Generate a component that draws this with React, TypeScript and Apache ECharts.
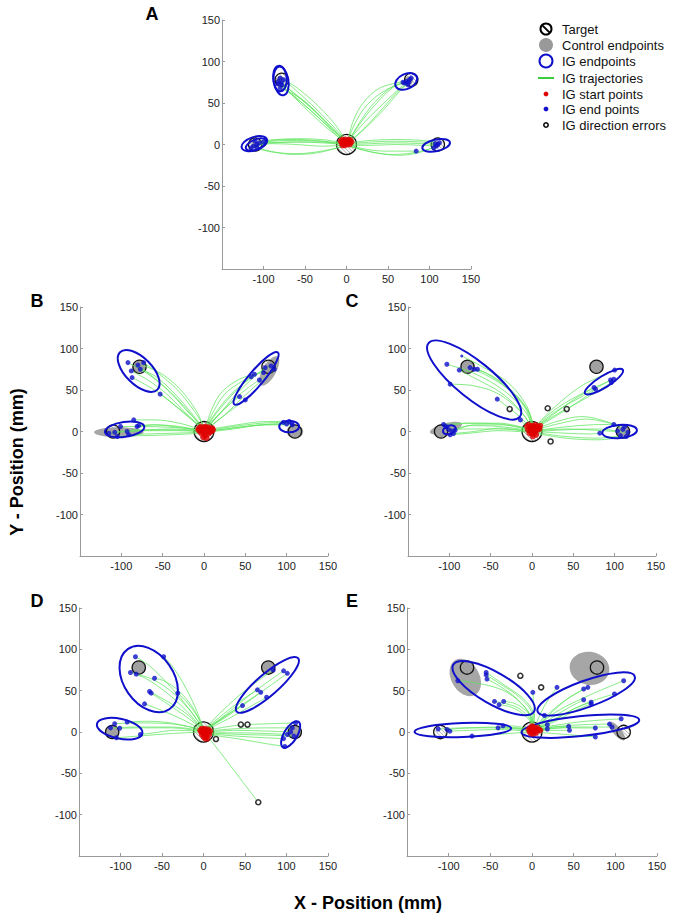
import React, { useEffect, useRef } from 'react';
import * as echarts from 'echarts';

// ---------- axis ----------
const AXIS_MIN = -150;
const AXIS_MAX = 150;
const AXIS_STEP = 50;

const panelNames = ['A', 'B', 'C', 'D', 'E'];

// targets: [x, y, radius]
const targets = [
  [0, 0, 12],
  [-110, 0, 8],
  [110, 0, 8],
  [-78, 78, 8],
  [78, 78, 8],
];

// ---------- Panel A ----------
const trajA = [
  [[-2, 3], [-20, 22], [-45, 46], [-65, 63], [-78, 74]],
  [[-1, 4], [-22, 25], [-48, 50], [-68, 66], [-80, 78]],
  [[0, 4], [-18, 24], [-42, 48], [-64, 68], [-77, 80]],
  [[-3, 2], [-25, 24], [-50, 47], [-70, 64], [-82, 72]],
  [[-1, 5], [-16, 27], [-40, 52], [-62, 70], [-76, 78]],
  [[-2, 4], [-24, 26], [-46, 48], [-66, 62], [-80, 68]],
  [[0, 3], [-20, 20], [-44, 42], [-66, 60], [-79, 70]],
  [[-1, 2], [-26, 22], [-52, 46], [-72, 66], [-82, 76]],
  [[2, 5], [10, 25], [25, 48], [48, 66], [70, 75]],
  [[3, 4], [14, 22], [32, 45], [55, 68], [74, 77]],
  [[2, 4], [20, 25], [40, 45], [60, 64], [76, 78]],
  [[3, 5], [18, 30], [35, 52], [56, 70], [72, 74]],
  [[4, 3], [25, 22], [45, 42], [62, 62], [78, 80]],
  [[2, 6], [8, 28], [20, 50], [40, 68], [70, 76]],
  [[3, 3], [22, 20], [44, 44], [64, 66], [74, 72]],
  [[-4, 1], [-30, 4], [-60, 5], [-90, 4], [-108, 2]],
  [[-4, 0], [-30, 2], [-60, 3], [-90, 2], [-112, 0]],
  [[-3, -1], [-30, -2], [-60, 0], [-90, 1], [-110, -2]],
  [[-4, 2], [-30, 6], [-60, 7], [-85, 6], [-105, 4]],
  [[-3, -2], [-30, -8], [-60, -11], [-90, -9], [-110, -4]],
  [[-4, -2], [-35, -10], [-65, -12], [-92, -8], [-112, -3]],
  [[-3, 0], [-30, 4], [-60, 6], [-88, 5], [-115, -4]],
  [[-4, 1], [-35, 3], [-65, 3], [-95, 2], [-100, 3]],
  [[4, 1], [30, 3], [60, 4], [90, 3], [108, 2]],
  [[4, 0], [30, 1], [60, 2], [90, 1], [110, 0]],
  [[3, -1], [30, -1], [60, 0], [90, -1], [108, -2]],
  [[4, 2], [30, 5], [60, 6], [90, 5], [112, 2]],
  [[3, -2], [30, -9], [55, -12], [80, -10], [105, -4]],
  [[4, -2], [35, -10], [65, -13], [90, -9], [110, -1]],
  [[3, -1], [25, -6], [50, -8], [70, -8], [84, -8]],
];
const endA = [
  [-80, 80], [-78, 72], [-82, 76], [-76, 78], [-80, 68], [-79, 74], [-83, 73],
  [72, 76], [76, 78], [70, 74], [78, 80], [74, 72], [68, 75], [75, 75],
  [-112, -2], [-108, 0], [-105, 2], [-115, -4], [-100, 3], [-110, 4], [-108, -3],
  [108, -2], [110, 0], [105, -4], [112, 2], [84, -8], [107, 1],
];
const startA = [
  [-7, 4], [-5, 6], [-3, 5], [-1, 6], [1, 5], [3, 6], [5, 5], [-6, 2], [-4, 1], [-2, 2],
  [0, 2], [2, 3], [4, 2], [6, 3], [-5, -1], [-2, -1], [1, 0], [4, 0], [0, 4], [-3, 3],
];
// ellipses: [cx, cy, semiMajor, semiMinor, angleDeg]
const ellA = [
  [-79, 77, 18, 9, 100], [-80, 79, 15, 8, 92],
  [72, 76, 14, 9, 25],
  [-111, 1, 16, 8, 18], [-109, 0, 13, 6, 22],
  [108, -1, 17, 7, 12],
];
const ctrlA = [[-80, 77, 5, 5, 0], [75, 77, 5, 5, 0], [-110, 0, 5, 4, 0], [108, 0, 5, 4, 0]];
const errA: number[][] = [];

// ---------- Panel B ----------
const trajB = [
  [[-1, 3], [-15, 20], [-38, 45], [-62, 66], [-80, 80]],
  [[0, 4], [-18, 22], [-42, 48], [-66, 68], [-92, 83]],
  [[-2, 3], [-20, 20], [-45, 45], [-68, 62], [-88, 73]],
  [[-1, 2], [-22, 20], [-48, 42], [-70, 56], [-87, 65]],
  [[0, 3], [-15, 22], [-35, 45], [-58, 66], [-77, 75]],
  [[1, 4], [-12, 25], [-32, 50], [-55, 70], [-73, 83]],
  [[-1, 3], [-18, 18], [-36, 32], [-53, 45]],
  [[0, 5], [-10, 26], [-30, 52], [-52, 70], [-75, 80]],
  [[2, 4], [15, 18], [30, 32], [43, 42]],
  [[3, 3], [20, 16], [36, 28], [50, 38]],
  [[2, 5], [12, 25], [25, 45], [42, 58], [57, 66]],
  [[3, 5], [15, 22], [32, 42], [48, 58], [61, 69]],
  [[3, 4], [20, 22], [38, 40], [55, 54], [67, 62]],
  [[2, 5], [10, 28], [22, 48], [45, 64], [72, 71]],
  [[4, 4], [22, 25], [42, 48], [60, 65], [74, 77]],
  [[3, 6], [18, 28], [38, 50], [62, 68], [81, 79]],
  [[4, 3], [25, 20], [48, 42], [68, 60], [85, 75]],
  [[-3, 2], [-30, 10], [-60, 14], [-85, 14]],
  [[-3, 1], [-30, 6], [-60, 8], [-81, 6]],
  [[-4, 1], [-30, 5], [-60, 8], [-79, 7]],
  [[-3, 0], [-35, 1], [-70, 1], [-93, 0]],
  [[-3, -1], [-35, -2], [-70, -3], [-91, -4]],
  [[-4, 0], [-40, 2], [-80, 2], [-108, -1]],
  [[-3, 2], [-40, 5], [-75, 6], [-101, 6]],
  [[-3, -2], [-40, -4], [-75, -5], [-105, -6]],
  [[-4, 1], [-40, 3], [-80, 1], [-115, -2]],
  [[4, 1], [35, 6], [70, 10], [96, 11]],
  [[3, 0], [35, 4], [70, 8], [100, 9]],
  [[4, 2], [40, 8], [75, 12], [103, 12]],
  [[3, -1], [35, 3], [70, 8], [106, 10]],
  [[4, 0], [40, 5], [75, 8], [107, 8]],
];
const endB = [
  [-92, 83], [-88, 73], [-87, 65], [-80, 80], [-77, 75], [-73, 83], [-53, 45],
  [43, 42], [50, 38], [57, 66], [61, 69], [67, 62], [72, 71], [74, 77], [81, 79], [85, 75],
  [-115, -2], [-108, -1], [-105, -6], [-101, 6], [-93, 0], [-91, -4], [-85, 14], [-81, 6], [-79, 7],
  [96, 11], [100, 9], [103, 12], [106, 10], [107, 8],
];
const startB = [
  [-6, 4], [-4, 6], [-2, 3], [0, 5], [2, 6], [4, 4], [6, 5], [8, 3], [10, 4], [-5, 0], [-3, -2],
  [0, -1], [3, 0], [5, -3], [7, -1], [1, -5], [-1, -7], [3, -8], [9, 0], [-7, 2], [11, 2],
];
const ellB = [[-79, 73, 32, 16, 135], [63, 64, 41, 9, 50], [-96, 2.5, 24, 9, 8], [103, 6, 12, 7, 0]];
const ctrlB = [[-103, -1, 30, 6, 0], [79, 73, 20, 8, 60], [110, 0, 10, 8, 0], [-78, 78, 8, 7, 0]];
const errB: number[][] = [];

// ---------- Panel C ----------
const trajC = [
  [[1, 4], [-5, 25], [-25, 48], [-50, 65], [-75, 77]],
  [[0, 5], [-8, 28], [-30, 52], [-55, 70], [-70, 75]],
  [[2, 4], [-3, 22], [-20, 45], [-45, 65], [-66, 75]],
  [[0, 3], [-10, 20], [-35, 45], [-65, 62], [-88, 74]],
  [[1, 5], [-6, 30], [-28, 58], [-60, 78], [-85, 91]],
  [[0, 4], [-12, 22], [-40, 45], [-70, 55], [-99, 57]],
  [[-1, 3], [-15, 18], [-30, 30], [-42, 39]],
  [[0, 3], [-8, 8], [-14, 14]],
  [[1, 4], [-8, 24], [-35, 50], [-70, 70], [-103, 81]],
  [[4, 4], [25, 20], [50, 38], [75, 53]],
  [[3, 3], [28, 18], [55, 35], [77, 51]],
  [[4, 5], [30, 25], [60, 42], [95, 62]],
  [[3, 4], [32, 22], [65, 40], [96, 59]],
  [[4, 6], [30, 28], [65, 48], [99, 63]],
  [[3, 5], [28, 30], [60, 55], [100, 74]],
  [[-3, 2], [-35, 8], [-70, 8], [-93, 1.5]],
  [[-3, 1], [-40, 6], [-75, 7], [-97, 0.5]],
  [[-4, 3], [-40, 10], [-75, 10], [-107, 8.5]],
  [[-3, 0], [-40, 3], [-75, 3], [-101, 2.5]],
  [[-4, 2], [-40, 9], [-80, 10], [-104, 6]],
  [[-3, -1], [-40, 1], [-75, -2], [-99, -4]],
  [[-3, 0], [-40, 4], [-70, 0], [-95, -2.5]],
  [[4, 3], [30, 12], [60, 18], [90, 12], [110, 2.5]],
  [[4, 2], [35, 10], [65, 15], [95, 10], [112, 6]],
  [[4, 1], [35, 5], [70, 8], [99, 8.5]],
  [[4, -1], [40, -6], [80, -8], [107, -5]],
  [[4, -2], [40, -8], [80, -10], [114, -6]],
  [[4, 0], [40, 2], [80, 3], [103.5, 0.5]],
  [[4, 0], [40, -2], [70, -3], [82, -2]],
  [[4, 1], [45, 3], [85, 1], [116, -1]],
];
const endC = [
  [-103, 81], [-88, 74], [-75, 77], [-70, 75], [-66, 75], [-99, 57], [-42, 39], [-14, 14],
  [75, 53], [77, 51], [95, 62], [96, 59], [99, 63], [100, 74],
  [82, -2], [99, 8.5], [103.5, 0.5], [107, -5], [110, 2.5], [112, 6], [114, -6], [116, -1],
  [-107, 8.5], [-104, 6], [-101, 2.5], [-97, 0.5], [-95, -2.5], [-99, -4], [-93, 1.5],
];
const smallEndC = [[-85, 91]];
const startC = [
  [-6, 6], [-4, 8], [-2, 5], [0, 7], [2, 6], [4, 8], [6, 6], [8, 5], [10, 7], [-5, 2],
  [-2, 1], [1, 2], [4, 1], [7, 2], [9, 3], [-3, -2], [0, -3], [3, -2], [1, -6], [5, -4],
];
const ellC = [[-70, 62, 71, 22, 141], [87, 60, 27, 7, 32], [106, 0, 21, 8, 5], [-100, 2, 8, 5, 20]];
const ctrlC = [[-104, 4, 20, 6, 15], [-78, 78, 8, 8, 0], [78, 78, 8, 8, 0], [110, 0, 9, 6, 0], [-110, 0, 8, 8, 0]];
const errC = [[-27, 27], [19, 28], [42, 27], [22.5, -12]];

// ---------- Panel D ----------
const trajD = [
  [[0, 3], [-15, 25], [-40, 55], [-65, 80], [-82, 91]],
  [[0, 4], [-10, 30], [-25, 60], [-38, 80], [-48, 91]],
  [[-1, 3], [-20, 25], [-45, 48], [-70, 65], [-88, 72]],
  [[0, 3], [-18, 28], [-40, 50], [-62, 64], [-81, 70]],
  [[0, 4], [-12, 28], [-30, 50], [-48, 62], [-59, 65]],
  [[-1, 2], [-18, 20], [-40, 35], [-65, 49]],
  [[0, 2], [-20, 18], [-42, 33], [-63, 47]],
  [[-1, 2], [-25, 15], [-50, 26], [-71, 34]],
  [[0, 4], [-8, 20], [-20, 36], [-31, 47]],
  [[3, 4], [20, 15], [35, 25], [47, 32]],
  [[3, 4], [22, 20], [45, 38], [65, 51]],
  [[4, 3], [25, 18], [48, 34], [69, 48]],
  [[4, 3], [28, 15], [55, 30], [76, 42]],
  [[3, 5], [22, 25], [50, 50], [84, 75]],
  [[4, 4], [28, 22], [60, 48], [96.5, 74]],
  [[4, 4], [30, 20], [65, 45], [101, 71]],
  [[-3, 2], [-40, 6], [-80, 6], [-112, 5]],
  [[-3, 3], [-40, 10], [-80, 11], [-107, 10]],
  [[-3, 1], [-40, 5], [-75, 5], [-101, 4.5]],
  [[-3, 3], [-40, 11], [-70, 13], [-92, 12]],
  [[-3, 0], [-40, -2], [-80, -5], [-105, -7]],
  [[-3, 1], [-35, 2], [-60, -1], [-76, -3]],
  [[4, 2], [40, 8], [80, 10], [111, 11]],
  [[4, 1], [40, 4], [80, 5], [107, 5]],
  [[4, 0], [40, 2], [80, 1], [105, 0]],
  [[4, -1], [40, -1], [80, -2], [101, -3]],
  [[4, -2], [40, -5], [75, -7], [96.5, -8]],
  [[4, -3], [40, -8], [75, -14], [98, -17.5]],
  [[4, -1], [45, -3], [85, -4], [109, -5]],
  [[3, -3], [22, -27], [44, -56], [66, -85]],
];
const endD = [
  [-82, 91], [-48, 91], [-88, 72], [-81, 70], [-59, 65], [-65, 49], [-63, 47], [-71, 34], [-31, 47],
  [47, 32], [65, 51], [69, 48], [76, 42], [84, 75], [96.5, 74], [101, 71],
  [-112, 5], [-107, 10], [-101, 4.5], [-92, 12], [-105, -7], [-76, -3],
  [111, 11], [107, 5], [105, 0], [101, -3], [96.5, -8], [98, -17.5], [109, -5],
];
const startD = [
  [-4, 2], [-2, 4], [0, 3], [2, 4], [4, 2], [6, 3], [-3, 0], [0, 0], [3, 1], [6, 0],
  [8, 1], [-2, -3], [1, -3], [4, -2], [7, -3], [0, -6], [3, -6], [5, -8], [2, -8],
];
const ellD = [[-66, 64, 44, 30, 125], [77, 57, 49, 13, 41], [-101, 4, 28, 12, -12], [105, -3, 18, 8, 59]];
const ctrlD = [[-78, 78, 8, 8, 0], [78, 78, 8, 8, 0], [-110, 0, 8, 8, 0], [110, 0, 8, 8, 0]];
const errD = [[45, 9], [53, 9], [15, -8.5], [66, -85]];

// ---------- Panel E ----------
const trajE = [
  [[0, 3], [2, 20], [-10, 40], [-35, 58], [-55, 72]],
  [[1, 4], [0, 22], [-15, 42], [-38, 58], [-55, 69]],
  [[0, 4], [-2, 20], [-18, 40], [-38, 55], [-54, 64]],
  [[1, 3], [-2, 15], [-15, 28], [-30, 34], [-45, 37]],
  [[0, 3], [-3, 14], [-15, 25], [-28, 31], [-39.5, 33]],
  [[1, 4], [0, 16], [-10, 28], [-22, 35], [-34, 37]],
  [[0, 4], [-5, 25], [-30, 48], [-60, 58], [-89, 62]],
  [[2, 4], [3, 20], [2, 35], [1, 48]],
  [[3, 3], [8, 10], [15, 20]],
  [[3, 4], [10, 22], [20, 40], [30, 54]],
  [[4, 4], [20, 20], [40, 38], [62, 52]],
  [[4, 5], [22, 24], [45, 42], [67, 54]],
  [[4, 4], [25, 18], [45, 30], [62, 39]],
  [[5, 3], [28, 15], [50, 28], [71, 36]],
  [[4, 3], [30, 14], [52, 26], [71, 34]],
  [[5, 4], [35, 20], [68, 36], [99, 46]],
  [[4, 5], [30, 25], [70, 45], [110, 62]],
  [[-3, 2], [-40, 5], [-80, 5], [-112.6, 3.6]],
  [[-3, 3], [-40, 6], [-75, 5], [-102, 3]],
  [[-3, 1], [-40, 3], [-75, 2], [-98.6, 1]],
  [[-3, 3], [-20, 5], [-40.7, 5]],
  [[-3, 4], [-20, 7], [-34.7, 7.6]],
  [[-3, 0], [-30, -2], [-55, -4], [-72, -5]],
  [[4, 3], [12, 7], [18.4, 8.8]],
  [[4, 2], [12, 3], [18.4, 3.6]],
  [[4, 2], [25, 6], [44, 6.8]],
  [[4, 1], [25, 2], [45, 2]],
  [[4, 2], [40, 5], [76, 4.8]],
  [[4, 0], [40, -3], [76, -6]],
  [[4, 3], [45, 8], [93, 9.6]],
  [[4, 2], [50, 6], [96, 6]],
  [[4, 4], [55, 12], [107, 16]],
];
const endE = [
  [-89, 62], [-55, 72], [-55, 69], [-54, 64], [-45, 37], [-39.5, 33], [-34, 37], [1, 48],
  [15, 20], [30, 54], [62, 52], [67, 54], [62, 39], [71, 36], [71, 34], [99, 46], [110, 62],
  [-112.6, 3.6], [-102, 3], [-98.6, 1], [-40.7, 5], [-34.7, 7.6], [-72, -5],
  [18.4, 8.8], [18.4, 3.6], [44, 6.8], [45, 2], [76, 4.8], [76, -6], [93, 9.6], [96, 6], [107, 16],
];
const startE = [
  [-4, 3], [-2, 5], [0, 4], [2, 6], [4, 4], [6, 5], [-3, 0], [0, 1], [3, 1], [6, 2],
  [8, 3], [-1, -2], [2, -2], [5, -1], [0, 7], [10, 2],
];
const ellE = [[-46, 53, 56, 19, 150], [65, 46, 62, 16, 20], [-83, 2.4, 58, 8.5, 2], [58, 7, 71, 12, 6]];
const ctrlE = [[-80, 66, 24, 17, 120], [69, 77, 24, 20, -10], [102, 1, 14, 5, -50]];
const errE = [[-14, 68], [11, 54]];

const panels = [
  { traj: trajA, end: endA, start: startA, ell: ellA, ctrl: ctrlA, err: errA, small: [] as number[][] },
  { traj: trajB, end: endB, start: startB, ell: ellB, ctrl: ctrlB, err: errB, small: [] as number[][] },
  { traj: trajC, end: endC, start: startC, ell: ellC, ctrl: ctrlC, err: errC, small: smallEndC },
  { traj: trajD, end: endD, start: startD, ell: ellD, ctrl: ctrlD, err: errD, small: [] as number[][] },
  { traj: trajE, end: endE, start: startE, ell: ellE, ctrl: ctrlE, err: errE, small: [] as number[][] },
];

// ---------- layout ----------
const gridBoxes = [
  { left: 222, top: 20, width: 249, height: 249 },
  { left: 80, top: 307, width: 248, height: 249 },
  { left: 408, top: 307, width: 248, height: 249 },
  { left: 79, top: 608, width: 249, height: 248 },
  { left: 407, top: 608, width: 250, height: 248 },
];
const letterPos = [
  [152, 14],
  [37, 301],
  [352, 301],
  [37, 601],
  [352, 601],
];

const GREEN = '#5ee65e';
const BLUE = '#1010cc';
const RED = '#e00000';
const GRAY = '#a6a6a6';
const FONT = '"Liberation Sans", Arial, sans-serif';

const ellipseRender = (fill: boolean) => (_params: any, api: any) => {
  const c = api.coord([api.value(0), api.value(1)]);
  const s = api.size([api.value(2), api.value(3)]);
  const rot = (api.value(4) * Math.PI) / 180;
  return {
    type: 'ellipse',
    x: c[0],
    y: c[1],
    rotation: rot,
    shape: { cx: 0, cy: 0, rx: s[0], ry: s[1] },
    style: fill ? { fill: GRAY, stroke: 'none' } : { fill: 'none', stroke: BLUE, lineWidth: 2 },
    silent: true,
  };
};

const targetRender = (_params: any, api: any) => {
  const c = api.coord([api.value(0), api.value(1)]);
  const r = api.size([api.value(2), api.value(2)])[0];
  const children: any[] = [];
  const sp = 2.6;
  for (let d = -r + sp / 2; d < r; d += sp) {
    const h = Math.sqrt(Math.max(r * r - d * d, 0));
    const nx = d / Math.SQRT2;
    const ny = -d / Math.SQRT2;
    const ux = h / Math.SQRT2;
    const uy = h / Math.SQRT2;
    children.push({
      type: 'line',
      shape: { x1: c[0] + nx - ux, y1: c[1] + ny - uy, x2: c[0] + nx + ux, y2: c[1] + ny + uy },
      style: { stroke: '#8c8c8c', lineWidth: 0.7 },
    });
  }
  children.push({
    type: 'circle',
    shape: { cx: c[0], cy: c[1], r },
    style: { fill: 'none', stroke: '#111', lineWidth: 1.3 },
  });
  return { type: 'group', children, silent: true };
};

function buildOption() {
  const grid = gridBoxes.map((g) => ({ ...g, containLabel: false }));
  const axisCommon = {
    type: 'value',
    min: AXIS_MIN,
    max: AXIS_MAX,
    interval: AXIS_STEP,
    splitLine: { show: false },
    axisLine: { show: true, onZero: false, lineStyle: { color: '#9a9a9a', width: 1 } },
    axisTick: { show: true, inside: true, length: 3, lineStyle: { color: '#9a9a9a' } },
  };
  const xAxis = gridBoxes.map((_, i) => ({
    ...axisCommon,
    gridIndex: i,
    position: 'bottom',
    axisLabel: { showMinLabel: false, margin: 4, fontSize: 11, color: '#222', fontFamily: FONT },
  }));
  const yAxis = gridBoxes.map((_, i) => ({
    ...axisCommon,
    gridIndex: i,
    position: 'left',
    axisLabel: { showMinLabel: false, margin: 2, fontSize: 11, color: '#222', fontFamily: FONT },
  }));

  const series: any[] = [];
  panels.forEach((p, i) => {
    const ax = { xAxisIndex: i, yAxisIndex: i };
    series.push({ type: 'custom', ...ax, data: p.ctrl, renderItem: ellipseRender(true), z: 1, silent: true });
    series.push({ type: 'custom', ...ax, data: targets, renderItem: targetRender, z: 2, silent: true });
    p.traj.forEach((t) => {
      series.push({
        type: 'line',
        ...ax,
        data: t,
        smooth: 0.35,
        symbol: 'none',
        showSymbol: false,
        lineStyle: { color: GREEN, width: 0.8, opacity: 0.95 },
        z: 3,
        silent: true,
      });
    });
    series.push({ type: 'scatter', ...ax, data: p.end, symbolSize: 5, itemStyle: { color: BLUE }, z: 4, silent: true });
    if (p.small.length) {
      series.push({ type: 'scatter', ...ax, data: p.small, symbolSize: 3, itemStyle: { color: BLUE }, z: 4, silent: true });
    }
    series.push({ type: 'custom', ...ax, data: p.ell, renderItem: ellipseRender(false), z: 5, silent: true });
    series.push({ type: 'scatter', ...ax, data: p.start, symbolSize: 6, itemStyle: { color: RED }, z: 6, silent: true });
    if (p.err.length) {
      series.push({
        type: 'scatter',
        ...ax,
        data: p.err,
        symbolSize: 5,
        itemStyle: { color: '#fff', borderColor: '#000', borderWidth: 1.6 },
        z: 7,
        silent: true,
      });
    }
  });

  const legendRows = [
    'Target',
    'Control endpoints',
    'IG endpoints',
    'IG trajectories',
    'IG start points',
    'IG end points',
    'IG direction errors',
  ];
  const rowY = [29, 45, 61, 78, 94, 109, 125];
  const ix = 546;
  const tx = 562;
  const legendIcons: any[] = [
    { type: 'circle', shape: { cx: ix, cy: rowY[0], r: 5.5 }, style: { fill: 'none', stroke: '#000', lineWidth: 2 } },
    { type: 'line', shape: { x1: ix - 3.9, y1: rowY[0] - 3.9, x2: ix + 3.9, y2: rowY[0] + 3.9 }, style: { stroke: '#000', lineWidth: 2 } },
    { type: 'circle', shape: { cx: ix, cy: rowY[1], r: 7 }, style: { fill: '#999', stroke: 'none' } },
    { type: 'circle', shape: { cx: ix, cy: rowY[2], r: 6.5 }, style: { fill: 'none', stroke: BLUE, lineWidth: 2 } },
    { type: 'line', shape: { x1: ix - 8, y1: rowY[3], x2: ix + 8, y2: rowY[3] }, style: { stroke: '#3ccc3c', lineWidth: 2 } },
    { type: 'circle', shape: { cx: ix, cy: rowY[4], r: 2.4 }, style: { fill: RED } },
    { type: 'circle', shape: { cx: ix, cy: rowY[5], r: 2.4 }, style: { fill: BLUE } },
    { type: 'circle', shape: { cx: ix, cy: rowY[6], r: 2.2 }, style: { fill: '#fff', stroke: '#000', lineWidth: 1.5 } },
  ];
  const legendTexts = legendRows.map((t, k) => ({
    type: 'text',
    x: tx,
    y: rowY[k],
    style: { text: t, font: `13px ${FONT}`, fill: '#111', textAlign: 'left', textVerticalAlign: 'middle' },
  }));
  const letters = panelNames.map((n, k) => ({
    type: 'text',
    x: letterPos[k][0],
    y: letterPos[k][1],
    style: { text: n, font: `bold 18px ${FONT}`, fill: '#000', textAlign: 'center', textVerticalAlign: 'middle' },
  }));

  const graphic = [
    ...legendIcons,
    ...legendTexts,
    ...letters,
    {
      type: 'text',
      x: 368,
      y: 903,
      style: { text: 'X - Position (mm)', font: `bold 18px ${FONT}`, fill: '#000', textAlign: 'center', textVerticalAlign: 'middle' },
    },
    {
      type: 'text',
      x: 17,
      y: 462,
      rotation: Math.PI / 2,
      style: { text: 'Y - Position (mm)', font: `bold 18px ${FONT}`, fill: '#000', textAlign: 'center', textVerticalAlign: 'middle' },
    },
  ];

  return {
    animation: false,
    backgroundColor: '#fff',
    grid,
    xAxis,
    yAxis,
    series,
    graphic,
  };
}

export default function App() {
  const ref = useRef<HTMLDivElement>(null);
  useEffect(() => {
    document.body.style.margin = '0';
    if (!ref.current) return;
    const chart = echarts.init(ref.current, undefined, { renderer: 'svg' });
    chart.setOption(buildOption() as any);
    return () => chart.dispose();
  }, []);
  return <div ref={ref} style={{ width: 675, height: 919 }} />;
}
